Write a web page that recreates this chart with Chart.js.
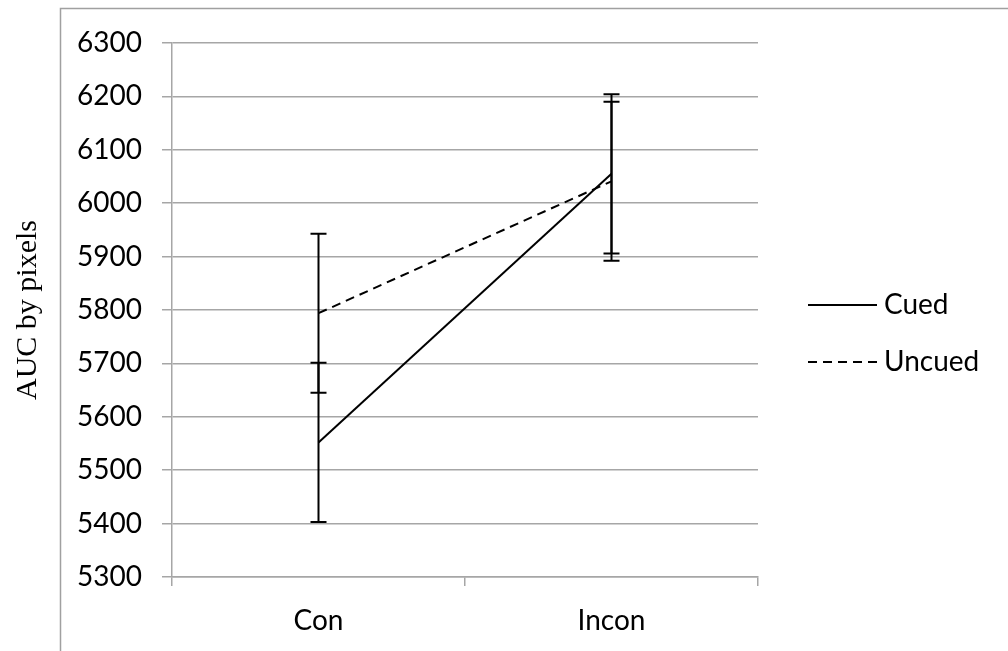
<!DOCTYPE html>
<html>
<head>
<meta charset="utf-8">
<script src="https://cdn.jsdelivr.net/npm/chart.js@4/dist/chart.umd.min.js"></script>
<style>
  html, body { margin: 0; padding: 0; background: #ffffff; }
  #wrap { width: 1008px; height: 651px; position: relative; }
</style>
</head>
<body>
<div id="wrap"><canvas id="c" width="1008" height="651"></canvas></div>
<script>
// ---- data ----
const categories = ['Con', 'Incon'];
const seriesNames = ['Cued', 'Uncued'];
const cuedValues = [5552, 6055];
const uncuedValues = [5794, 6041];
const cuedErrors = [149, 149];
const uncuedErrors = [149, 149];
const yMin = 5300;
const yMax = 6300;
const yStep = 100;
const yTitle = 'AUC by pixels';

const GRID = '#a6a6a6';
const LABEL_FONT = { family: 'Lato, Carlito, "Liberation Sans", sans-serif', size: 28 };

const errorsByDataset = [cuedErrors, uncuedErrors];

const errorBarPlugin = {
  id: 'errorBars',
  afterDatasetsDraw(chart) {
    const ctx = chart.ctx;
    const xs = chart.scales.x, ys = chart.scales.y;
    ctx.save();
    ctx.strokeStyle = '#000';
    ctx.lineWidth = 2;
    ctx.setLineDash([]);
    chart.data.datasets.forEach((ds, di) => {
      const errs = errorsByDataset[di];
      ds.data.forEach((v, i) => {
        const x = xs.getPixelForValue(i);
        const yTop = ys.getPixelForValue(v + errs[i]);
        const yBot = ys.getPixelForValue(v - errs[i]);
        ctx.beginPath();
        ctx.moveTo(x, yTop); ctx.lineTo(x, yBot);
        ctx.moveTo(x - 8, yTop); ctx.lineTo(x + 8, yTop);
        ctx.moveTo(x - 8, yBot); ctx.lineTo(x + 8, yBot);
        ctx.stroke();
      });
    });
    ctx.restore();
  }
};

const frameAndLegendPlugin = {
  id: 'frameLegend',
  beforeDraw(chart) {
    const ctx = chart.ctx;
    ctx.save();
    ctx.fillStyle = '#fff';
    ctx.fillRect(0, 0, chart.width, chart.height);
    ctx.strokeStyle = '#a0a0a0';
    ctx.lineWidth = 1.5;
    ctx.beginPath();
    ctx.moveTo(60.5, chart.height);
    ctx.lineTo(60.5, 8.5);
    ctx.lineTo(chart.width, 8.5);
    ctx.stroke();
    ctx.restore();
  },
  afterDraw(chart) {
    const ctx = chart.ctx;
    ctx.save();
    const x0 = 808, x1 = 877, tx = 884;
    const rows = [305, 362];
    chart.data.datasets.forEach((ds, i) => {
      const y = rows[i];
      ctx.strokeStyle = ds.borderColor;
      ctx.lineWidth = ds.borderWidth;
      ctx.setLineDash(ds.borderDash || []);
      ctx.beginPath();
      ctx.moveTo(x0, y); ctx.lineTo(x1, y);
      ctx.stroke();
      ctx.setLineDash([]);
      ctx.fillStyle = '#000';
      ctx.font = LABEL_FONT.size + 'px ' + LABEL_FONT.family;
      ctx.textBaseline = 'middle';
      ctx.textAlign = 'left';
      ctx.fillText(ds.label, tx, y);
    });
    ctx.restore();
  }
};

new Chart(document.getElementById('c'), {
  type: 'line',
  data: {
    labels: categories,
    datasets: [
      { label: seriesNames[0], data: cuedValues, borderColor: '#000', borderWidth: 2,
        pointRadius: 0, fill: false, tension: 0 },
      { label: seriesNames[1], data: uncuedValues, borderColor: '#000', borderWidth: 2,
        borderDash: [9, 6], pointRadius: 0, fill: false, tension: 0 }
    ]
  },
  options: {
    responsive: false,
    animation: false,
    devicePixelRatio: 1,
    layout: { padding: { top: 43, right: 250, left: 0, bottom: 0 } },
    plugins: { legend: { display: false }, tooltip: { enabled: false } },
    scales: {
      x: {
        type: 'category',
        offset: true,
        grid: { offset: true, drawOnChartArea: false, color: GRID, lineWidth: 1.5, tickLength: 9 },
        border: { color: GRID, width: 1.5 },
        ticks: { color: '#000', font: LABEL_FONT, padding: 18 },
        afterFit(scale) { scale.height = 74; }
      },
      y: {
        min: yMin, max: yMax,
        ticks: { stepSize: yStep, color: '#000', font: LABEL_FONT, padding: 20,
                 callback: (v) => String(v) },
        grid: { color: GRID, lineWidth: 1.5, tickLength: 10 },
        border: { color: GRID, width: 1.5 },
        title: { display: true, text: yTitle, color: '#000',
                 font: { family: '"Liberation Serif", "Times New Roman", serif', size: 30 },
                 padding: { top: 10, bottom: 0 } },
        afterFit(scale) { scale.width = 172; }
      }
    }
  },
  plugins: [errorBarPlugin, frameAndLegendPlugin]
});
</script>
</body>
</html>
